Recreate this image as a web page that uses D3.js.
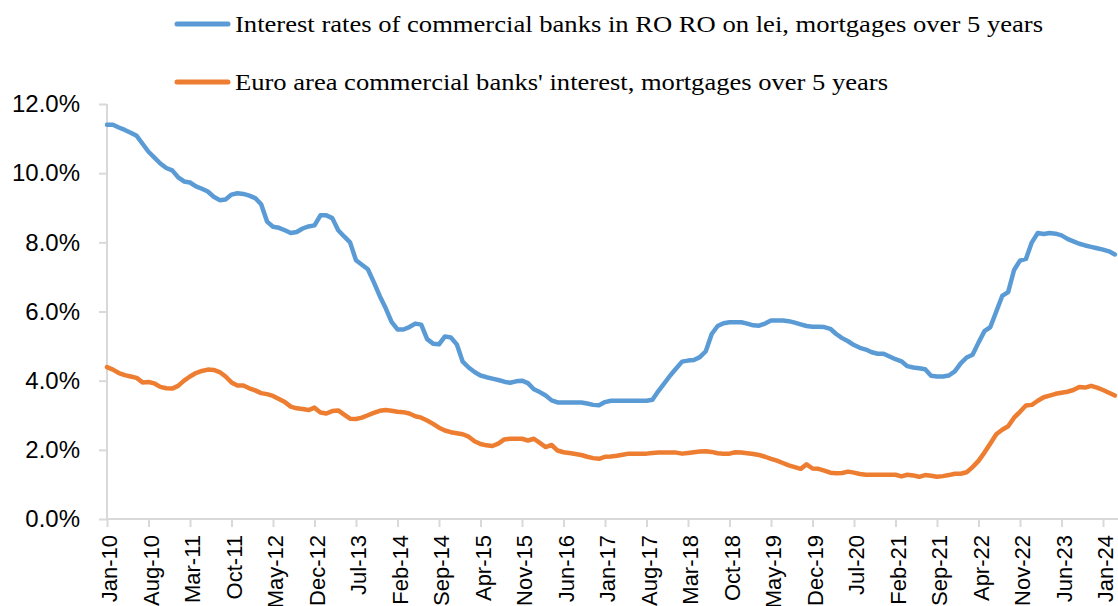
<!DOCTYPE html>
<html>
<head>
<meta charset="utf-8">
<script src="https://cdn.jsdelivr.net/npm/d3@7"></script>
<style>
  html, body { margin: 0; padding: 0; background: #fff; }
  svg { display: block; }
</style>
</head>
<body>
<svg id="chart" width="1118" height="606"></svg>
<script>
// ---- data ----
const startMonth = "2010-01";   // first category (Jan-10), monthly up to Mar-24
const seriesNames = [
  "Interest rates of commercial banks in RO RO on lei, mortgages over 5 years",
  "Euro area commercial banks' interest, mortgages over 5 years"
];
const roRates = [
  11.40, 11.40, 11.32, 11.25, 11.17, 11.08, 10.85, 10.62, 10.45, 10.28, 10.15, 10.08,
  9.88, 9.76, 9.73, 9.62, 9.55, 9.47, 9.32, 9.22, 9.24, 9.38, 9.42, 9.40,
  9.35, 9.28, 9.10, 8.60, 8.45, 8.42, 8.35, 8.27, 8.30, 8.40, 8.46, 8.49,
  8.78, 8.78, 8.70, 8.35, 8.17, 8.00, 7.48, 7.35, 7.22, 6.85, 6.45, 6.10,
  5.70, 5.48, 5.48, 5.55, 5.65, 5.62, 5.20, 5.07, 5.05, 5.28, 5.25, 5.05,
  4.55, 4.38, 4.25, 4.15, 4.10, 4.06, 4.02, 3.97, 3.94, 3.98, 4.00, 3.93,
  3.75, 3.67, 3.57, 3.43, 3.37, 3.37, 3.37, 3.37, 3.37, 3.34, 3.30, 3.29,
  3.38, 3.42, 3.42, 3.42, 3.42, 3.42, 3.42, 3.42, 3.45, 3.70, 3.92, 4.15,
  4.35, 4.55, 4.58, 4.60, 4.68, 4.85, 5.35, 5.58, 5.66, 5.69, 5.69, 5.69,
  5.65, 5.60, 5.59, 5.65, 5.74, 5.74, 5.74, 5.72, 5.68, 5.63, 5.58, 5.56,
  5.56, 5.55, 5.50, 5.35, 5.23, 5.14, 5.03, 4.95, 4.90, 4.82, 4.78, 4.78,
  4.70, 4.62, 4.56, 4.42, 4.38, 4.36, 4.33, 4.14, 4.12, 4.12, 4.15, 4.27,
  4.50, 4.67, 4.75, 5.10, 5.43, 5.55, 6.00, 6.45, 6.56, 7.20, 7.47, 7.52,
  8.00, 8.27, 8.24, 8.27, 8.25, 8.20, 8.10, 8.03, 7.96, 7.91, 7.87, 7.83,
  7.79, 7.74, 7.65
];
const euroRates = [
  4.39, 4.32, 4.22, 4.16, 4.12, 4.08, 3.95, 3.96, 3.92, 3.82, 3.78, 3.77,
  3.85, 4.00, 4.12, 4.22, 4.28, 4.32, 4.31, 4.25, 4.12, 3.95, 3.86, 3.86,
  3.78, 3.72, 3.64, 3.61, 3.56, 3.47, 3.38, 3.25, 3.20, 3.18, 3.15, 3.22,
  3.08, 3.05, 3.12, 3.14, 3.02, 2.90, 2.89, 2.93, 3.00, 3.07, 3.13, 3.15,
  3.13, 3.10, 3.09, 3.05, 2.97, 2.93, 2.85, 2.75, 2.64, 2.56, 2.51, 2.48,
  2.45, 2.38, 2.25, 2.17, 2.13, 2.11, 2.18, 2.30, 2.32, 2.32, 2.32, 2.27,
  2.32, 2.20, 2.08, 2.14, 1.98, 1.93, 1.91, 1.88, 1.85, 1.80, 1.76, 1.74,
  1.80, 1.81, 1.83, 1.86, 1.89, 1.89, 1.89, 1.89, 1.91, 1.92, 1.92, 1.92,
  1.92, 1.89, 1.91, 1.93, 1.95, 1.96, 1.94, 1.90, 1.89, 1.89, 1.93, 1.92,
  1.90, 1.88, 1.85, 1.80, 1.74, 1.69, 1.62, 1.55, 1.50, 1.45, 1.58, 1.46,
  1.45, 1.40, 1.34, 1.32, 1.33, 1.37, 1.34, 1.30, 1.28, 1.28, 1.28, 1.28,
  1.28, 1.28, 1.23, 1.28, 1.26, 1.22, 1.27, 1.25, 1.22, 1.24, 1.27, 1.31,
  1.31, 1.35, 1.50, 1.68, 1.92, 2.18, 2.45, 2.58, 2.68, 2.93, 3.10, 3.28,
  3.30, 3.42, 3.52, 3.57, 3.62, 3.65, 3.68, 3.73, 3.82, 3.80, 3.85, 3.80,
  3.73, 3.65, 3.57
];
const xTickLabels = ["Jan-10","Aug-10","Mar-11","Oct-11","May-12","Dec-12","Jul-13",
  "Feb-14","Sep-14","Apr-15","Nov-15","Jun-16","Jan-17","Aug-17","Mar-18","Oct-18",
  "May-19","Dec-19","Jul-20","Feb-21","Sep-21","Apr-22","Nov-22","Jun-23","Jan-24"];
const yTicks = [0, 2, 4, 6, 8, 10, 12];
const colors = ["#5B9BD5", "#ED7D31"];

// ---- categories ----
const fmt = d3.timeFormat("%b-%y");
const start = d3.timeParse("%Y-%m")(startMonth);
const categories = roRates.map((_, i) => fmt(d3.timeMonth.offset(start, i)));

// ---- layout ----
const svg = d3.select("#chart");
const plotLeft = 107, plotTop = 104, plotBottom = 519;
const x = d3.scaleLinear().domain([0, 168]).range([plotLeft, 1103]);
const y = d3.scaleLinear().domain([0, 12]).range([plotBottom, plotTop]);
const axisColor = "#d9d9d9";

// y axis
const yAxis = svg.append("g").attr("transform", `translate(${plotLeft},0)`)
  .call(d3.axisLeft(y).tickValues(yTicks).tickSize(8).tickPadding(19)
    .tickFormat(d => d.toFixed(1) + "%"));
yAxis.select(".domain").attr("stroke", axisColor).attr("stroke-width", 2).attr("d", `M0,${plotTop}V${plotBottom}`);
yAxis.selectAll(".tick line").attr("stroke", axisColor).attr("stroke-width", 2);
yAxis.selectAll(".tick text").attr("font-family", "'Liberation Sans', Arial, sans-serif")
  .attr("font-size", 24).attr("fill", "#000");

// x axis
const tickIdx = xTickLabels.map(l => categories.indexOf(l));
const xAxis = svg.append("g").attr("transform", `translate(0,${plotBottom})`)
  .call(d3.axisBottom(x).tickValues(tickIdx).tickSize(8).tickSizeOuter(0)
    .tickFormat(i => categories[i]));
xAxis.select(".domain").attr("stroke", axisColor).attr("stroke-width", 2).attr("d", `M${plotLeft},0H1118`);
xAxis.selectAll(".tick line").attr("stroke", axisColor).attr("stroke-width", 2);
xAxis.selectAll(".tick text")
  .attr("font-family", "'Liberation Sans', Arial, sans-serif")
  .attr("font-size", 22).attr("fill", "#000")
  .attr("text-anchor", "end")
  .attr("transform", "rotate(-90)")
  .attr("x", -16).attr("y", 2).attr("dy", "0.35em");

// lines
const line = d3.line().x((d, i) => x(i)).y(d => y(d));
[roRates, euroRates].forEach((s, k) => {
  svg.append("path").datum(s)
    .attr("fill", "none").attr("stroke", colors[k]).attr("stroke-width", 4.5)
    .attr("stroke-linejoin", "round").attr("stroke-linecap", "round")
    .attr("d", line);
});

// legend
const legendY = [24, 82];
const legendW = [808, 653];
seriesNames.forEach((name, k) => {
  svg.append("line").attr("x1", 177).attr("x2", 228)
    .attr("y1", legendY[k]).attr("y2", legendY[k])
    .attr("stroke", colors[k]).attr("stroke-width", 5).attr("stroke-linecap", "round");
  svg.append("text").attr("x", 235).attr("y", legendY[k] + 8)
    .attr("font-family", "'Liberation Serif', 'Times New Roman', serif")
    .attr("font-size", 24).attr("fill", "#000")
    .attr("textLength", legendW[k]).attr("lengthAdjust", "spacingAndGlyphs")
    .text(name);
});
</script>
</body>
</html>
